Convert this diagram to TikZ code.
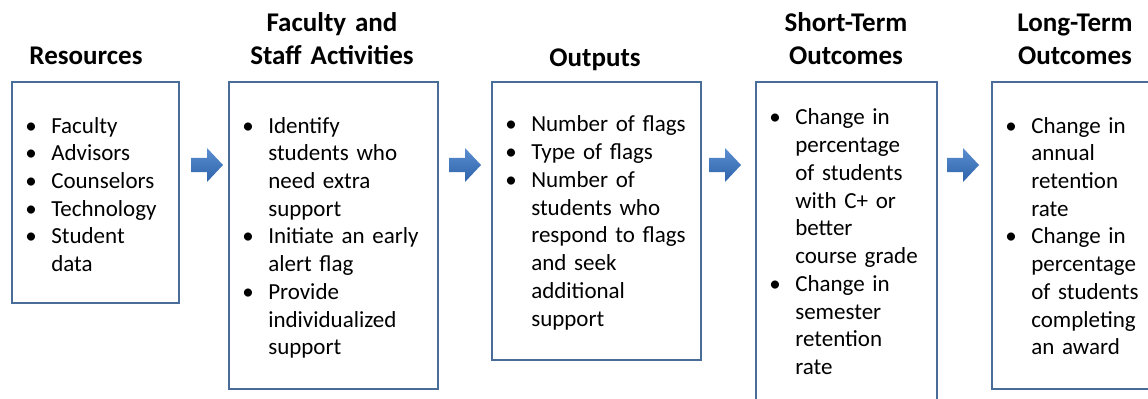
\documentclass[tikz,border=0pt]{standalone}
\usepackage{fontspec}
\setmainfont{Carlito}
\usetikzlibrary{positioning}

\definecolor{framecol}{HTML}{4A6C98}
\definecolor{arrowtop}{HTML}{5B8FD0}
\definecolor{arrowbot}{HTML}{2E62AA}

% bullet with hanging indent
\newcommand{\bul}{\hangindent=19.5pt\hangafter=1\makebox[19.5pt][l]{\textbullet}}

\tikzset{
  frame/.style={draw=framecol, line width=1.5pt, inner sep=0pt, anchor=north west},
  title/.style={font=\fontsize{20.25}{24.75}\selectfont\bfseries, text width=250pt, align=center, inner sep=0pt, anchor=base},
  list/.style={font=\fontsize{17.25}{20.8}\selectfont, text width=200pt, inner sep=0pt, anchor=base west}
}

\begin{document}
\begin{tikzpicture}[x=0.75pt, y=-0.75pt]
    % Step 1: 그림 영역
    \useasboundingbox (0,0) rectangle (1148,399);
    \clip (0,0) rectangle (1148,399);

    % Step 2: 상자
    \node[frame, minimum width=125.25pt, minimum height=165.75pt] (res) at (11,81) {};
    \node[frame, minimum width=156.75pt, minimum height=230.25pt] (act) at (228,81) {};
    \node[frame, minimum width=156.75pt, minimum height=208.5pt] (out) at (491,81) {};
    \node[frame, minimum width=135.75pt, minimum height=247.5pt] (st) at (755,81) {};
    \node[frame, minimum width=126pt, minimum height=230.25pt] (lt) at (991,81) {};

    % Step 3: 제목
    \node[title] (resT) at (86,65) {Resources};
    \node[title] (actT) at (332,32) {Faculty and\\Staff Activities};
    \node[title] (outT) at (595,67) {Outputs};
    \node[title] (stT) at (846,32) {Short-Term\\Outcomes};
    \node[title] (ltT) at (1075,32) {Long-Term\\Outcomes};

    % Step 4: 목록
    \node[list] (resL) at ([shift={(14,52)}]res.north west)
        {\bul Faculty\par\bul Advisors\par\bul Counselors\par\bul Technology\par\bul Student\newline data\par};
    \node[list] (actL) at ([shift={(14,52)}]act.north west)
        {\bul Identify\newline students who\newline need extra\newline support\par
         \bul Initiate an early\newline alert flag\par
         \bul Provide\newline individualized\newline support\par};
    \node[list] (outL) at ([shift={(14,51)}]out.north west)
        {\bul Number of flags\par\bul Type of flags\par
         \bul Number of\newline students who\newline respond to flags\newline and seek\newline additional\newline support\par};
    \node[list] (stL) at ([shift={(14,44)}]st.north west)
        {\bul Change in\newline percentage\newline of students\newline with C+ or\newline better\newline course grade\par
         \bul Change in\newline semester\newline retention\newline rate\par};
    \node[list] (ltL) at ([shift={(14,52)}]lt.north west)
        {\bul Change in\newline annual\newline retention\newline rate\par
         \bul Change in\newline percentage\newline of students\newline completing\newline an award\par};

    % Step 5: 화살표
    \foreach \ax in {191,449,709,947} {
        \shade[top color=arrowtop, bottom color=arrowbot]
            (\ax,158) -- (\ax+16,158) -- (\ax+16,148) -- (\ax+32,165)
            -- (\ax+16,182) -- (\ax+16,172) -- (\ax,172) -- cycle;
    }

\end{tikzpicture}
\end{document}
